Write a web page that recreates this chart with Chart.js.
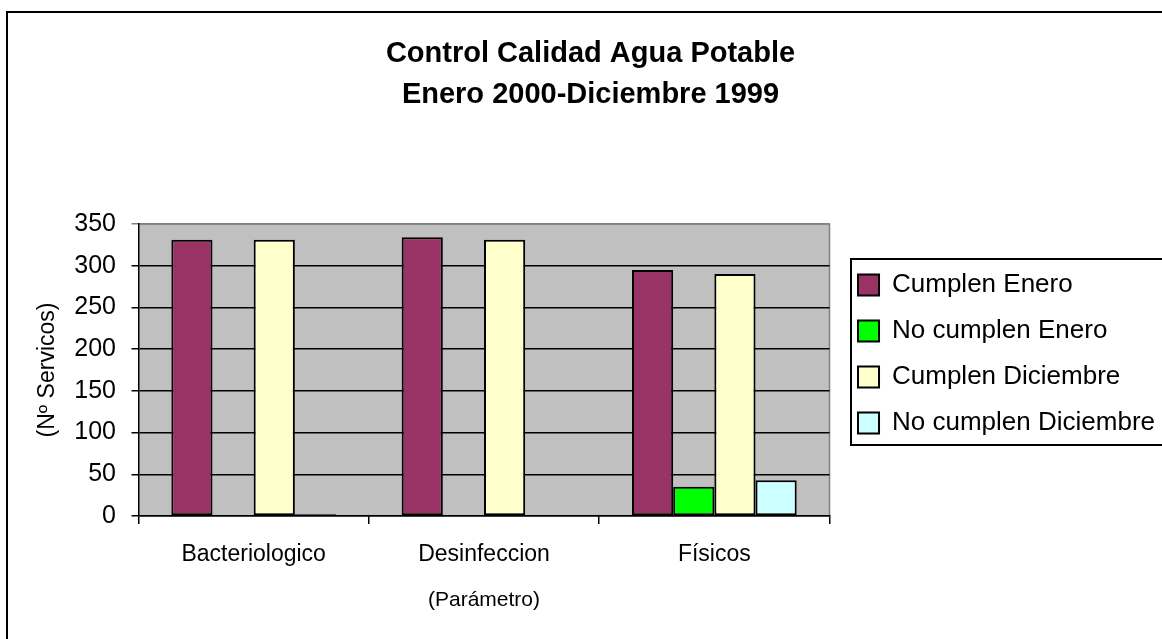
<!DOCTYPE html>
<html>
<head>
<meta charset="utf-8">
<script src="https://cdn.jsdelivr.net/npm/chart.js@4.4.0/dist/chart.umd.min.js"></script>
<style>
  html, body { margin: 0; padding: 0; background: #fff; overflow: hidden; }
  #wrap { position: absolute; left: 0; top: 0; width: 1162px; height: 639px; }
</style>
</head>
<body>
<div id="wrap"><canvas id="chart"></canvas></div>
<script>
const categories = ['Bacteriologico', 'Desinfeccion', 'Físicos'];
const cumplenEnero = [331, 334, 295];
const noCumplenEnero = [0, 0, 35];
const cumplenDiciembre = [331, 331, 290];
const noCumplenDiciembre = [2, 0, 43];
const seriesNames = ['Cumplen Enero', 'No cumplen Enero', 'Cumplen Diciembre', 'No cumplen Diciembre'];
const seriesColors = ['#993366', '#00FF00', '#FFFFCC', '#CCFFFF'];
const titleLines = ['Control Calidad Agua Potable', 'Enero 2000-Diciembre 1999'];

const FONT = "'Liberation Sans', Arial, sans-serif";

// grey plot background, outer frame and the box round the legend
const decor = {
    id: 'decor',
    afterLayout(chart) {
        // legend sits a little further right than chart.js puts it
        chart.legend.left += 8.5;
        chart.legend.right += 8.5;
    },
    beforeDraw(chart) {
        const { ctx, chartArea: a } = chart;
        ctx.save();
        ctx.fillStyle = '#C0C0C0';
        ctx.fillRect(a.left, a.top, a.right - a.left, a.bottom - a.top);
        ctx.strokeStyle = '#808080';
        ctx.lineWidth = 1.5;
        ctx.beginPath();
        ctx.moveTo(a.left, a.top);
        ctx.lineTo(a.right, a.top);
        ctx.lineTo(a.right, a.bottom);
        ctx.stroke();
        ctx.restore();
    },
    afterDraw(chart) {
        const ctx = chart.ctx;
        ctx.save();
        ctx.strokeStyle = '#000';
        ctx.lineWidth = 2;
        ctx.beginPath();
        ctx.moveTo(7, 639);
        ctx.lineTo(7, 12);
        ctx.lineTo(1170, 12);
        ctx.stroke();
        const boxes = chart.legend.legendHitBoxes;
        if (boxes && boxes.length) {
            const first = boxes[0], last = boxes[boxes.length - 1];
            const x0 = first.left - 7;
            const y0 = first.top - 13;
            const y1 = last.top + last.height + 9;
            ctx.strokeRect(x0, y0, 1200 - x0, y1 - y0);
        }
        ctx.restore();
    }
};

const datasets = [cumplenEnero, noCumplenEnero, cumplenDiciembre, noCumplenDiciembre].map((d, i) => ({
    label: seriesNames[i],
    data: d,
    backgroundColor: seriesColors[i],
    borderColor: '#000',
    borderWidth: 2,
    borderSkipped: false,
    categoryPercentage: 0.715,
    barPercentage: 1.0
}));

new Chart(document.getElementById('chart'), {
    type: 'bar',
    data: { labels: categories, datasets: datasets },
    plugins: [decor],
    options: {
        responsive: true,
        maintainAspectRatio: false,
        animation: false,
        layout: { padding: { left: 24.5, right: 5.5, top: 0, bottom: 0 } },
        plugins: {
            tooltip: { enabled: false },
            title: {
                display: true,
                text: titleLines,
                color: '#000',
                font: { family: FONT, size: 29, weight: 'bold', lineHeight: 41 / 29 },
                padding: { top: 33.5, bottom: 108.5 }
            },
            legend: {
                position: 'right',
                align: 'start',
                fullSize: false,
                maxWidth: 400,
                title: { display: true, text: ' ', padding: 6.8, font: { size: 12 } },
                labels: {
                    color: '#000',
                    font: { family: FONT, size: 26 },
                    boxWidth: 21,
                    boxHeight: 21,
                    padding: 20,
                    generateLabels(chart) {
                        return chart.data.datasets.map((ds, i) => ({
                            text: ds.label,
                            fillStyle: ds.backgroundColor,
                            strokeStyle: '#000',
                            fontColor: '#000',
                            lineWidth: 2,
                            datasetIndex: i
                        }));
                    }
                }
            }
        },
        scales: {
            x: {
                offset: true,
                grid: { display: true, drawOnChartArea: false, offset: true, color: '#000', tickLength: 8, lineWidth: 1.5 },
                border: { color: '#000', width: 1.5 },
                ticks: { color: '#000', font: { family: FONT, size: 23 }, padding: 17 },
                title: { display: true, text: '(Parámetro)', color: '#000', font: { family: FONT, size: 21 }, padding: { top: 1.8, bottom: 26.4 } }
            },
            y: {
                min: 0,
                max: 350,
                ticks: { stepSize: 50, color: '#000', font: { family: FONT, size: 25 }, padding: 15.5 },
                grid: {
                    color: (c) => (c.tick && c.tick.value === 350 ? '#808080' : '#000'),
                    lineWidth: 1.5,
                    tickLength: 7
                },
                border: { color: '#000', width: 1.5 },
                title: { display: true, text: '(Nº Servicos)', color: '#000', font: { family: FONT, size: 23 }, padding: { top: 9.7, bottom: -3 } }
            }
        }
    }
});
</script>
</body>
</html>
